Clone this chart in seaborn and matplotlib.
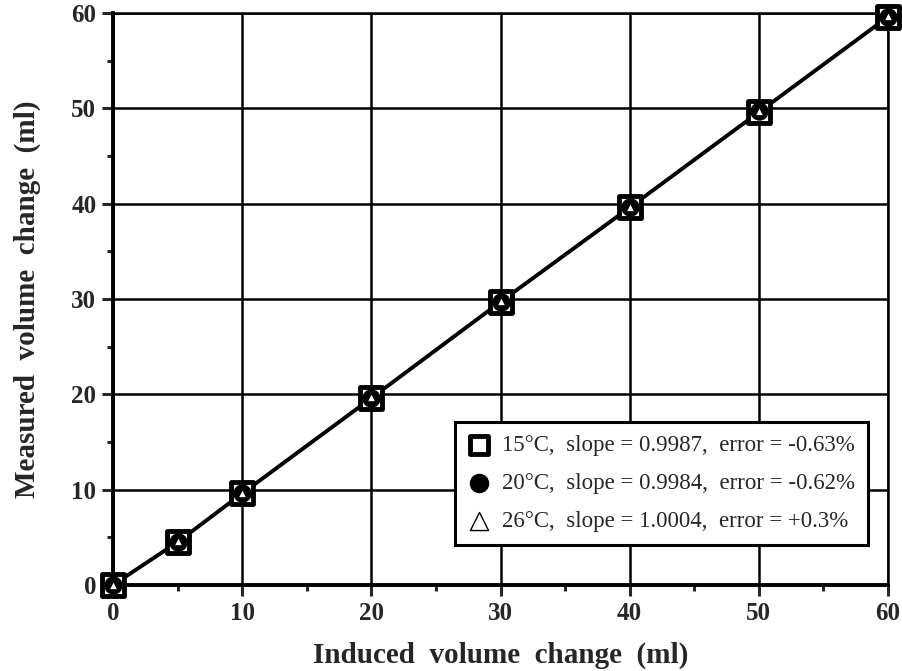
import numpy as np
import pandas as pd
import matplotlib
matplotlib.use('Agg')
import matplotlib.pyplot as plt
import seaborn as sns
from matplotlib.ticker import MultipleLocator

# Induced vs measured volume change (ml)
induced = [0, 5, 10, 20, 30, 40, 50, 60]
measured_15 = [0.0, 4.5, 9.6, 19.6, 29.7, 39.6, 49.6, 59.6]
measured_20 = [0.0, 4.5, 9.6, 19.6, 29.7, 39.6, 49.7, 59.6]
measured_26 = [0.0, 4.6, 9.7, 19.7, 29.8, 39.7, 49.7, 59.7]

series_labels = [
    '15\u00b0C,  slope = 0.9987,  error = -0.63%',
    '20\u00b0C,  slope = 0.9984,  error = -0.62%',
    '26\u00b0C,  slope = 1.0004,  error = +0.3%',
]

df = pd.DataFrame({
    'induced': induced * 3,
    'measured': measured_15 + measured_20 + measured_26,
    'series': np.repeat(series_labels, len(induced)),
})

sns.set_style('white')
plt.rcParams['font.family'] = ['Liberation Serif', 'DejaVu Serif']
plt.rcParams['font.weight'] = 'bold'

fig = plt.figure(figsize=(9.02, 6.71), dpi=100)
ax = fig.add_axes([0.1253, 0.1282, 0.8592, 0.8524])

# connecting line
sns.lineplot(data=df[df['series'] == series_labels[0]], x='induced', y='measured',
             color='black', lw=2.8, ax=ax, zorder=3, legend=False)

styles = [
    dict(marker='s', s=250, facecolor='white', edgecolor='black', linewidth=3.5),
    dict(marker='o', s=150, facecolor='black', edgecolor='black', linewidth=1),
    dict(marker='^', s=40, facecolor='white', edgecolor='black', linewidth=1.0),
]
for lab, st in zip(series_labels, styles):
    sub = df[df['series'] == lab]
    sns.scatterplot(data=sub, x='induced', y='measured', ax=ax, zorder=4,
                    label=lab, clip_on=False, **st)

ax.set_xlim(0, 60)
ax.set_ylim(0, 60)
ax.xaxis.set_major_locator(MultipleLocator(10))
ax.yaxis.set_major_locator(MultipleLocator(10))
ax.xaxis.set_minor_locator(MultipleLocator(5))
ax.yaxis.set_minor_locator(MultipleLocator(5))
ax.grid(True, which='major', color='black', lw=1.8)
ax.tick_params(which='major', direction='out', length=8, width=2.2, labelsize=18,
               bottom=True, left=True, pad=4)
ax.tick_params(which='minor', direction='out', length=4, width=2.2, bottom=True, left=True)
for side in ['left', 'bottom']:
    ax.spines[side].set_linewidth(2.8)
    ax.spines[side].set_color('black')
for side in ['top', 'right']:
    ax.spines[side].set_linewidth(1.8)
    ax.spines[side].set_color('black')

ax.set_xlabel('Induced  volume  change  (ml)', fontsize=21, fontweight='bold', labelpad=12)
ax.set_ylabel('Measured  volume  change  (ml)', fontsize=21, fontweight='bold', labelpad=22)

leg = ax.legend(loc='lower right', bbox_to_anchor=(0.974, 0.07), borderaxespad=0,
                frameon=True, fancybox=False, edgecolor='black', framealpha=1,
                prop={'size': 16.5, 'weight': 'normal'}, handletextpad=0.5,
                labelspacing=0.75, borderpad=0.55, handlelength=1.0)
leg.get_frame().set_linewidth(2.2)
for h in leg.legend_handles:
    h.set_sizes([170])

fig.savefig('out.png', dpi=100)
